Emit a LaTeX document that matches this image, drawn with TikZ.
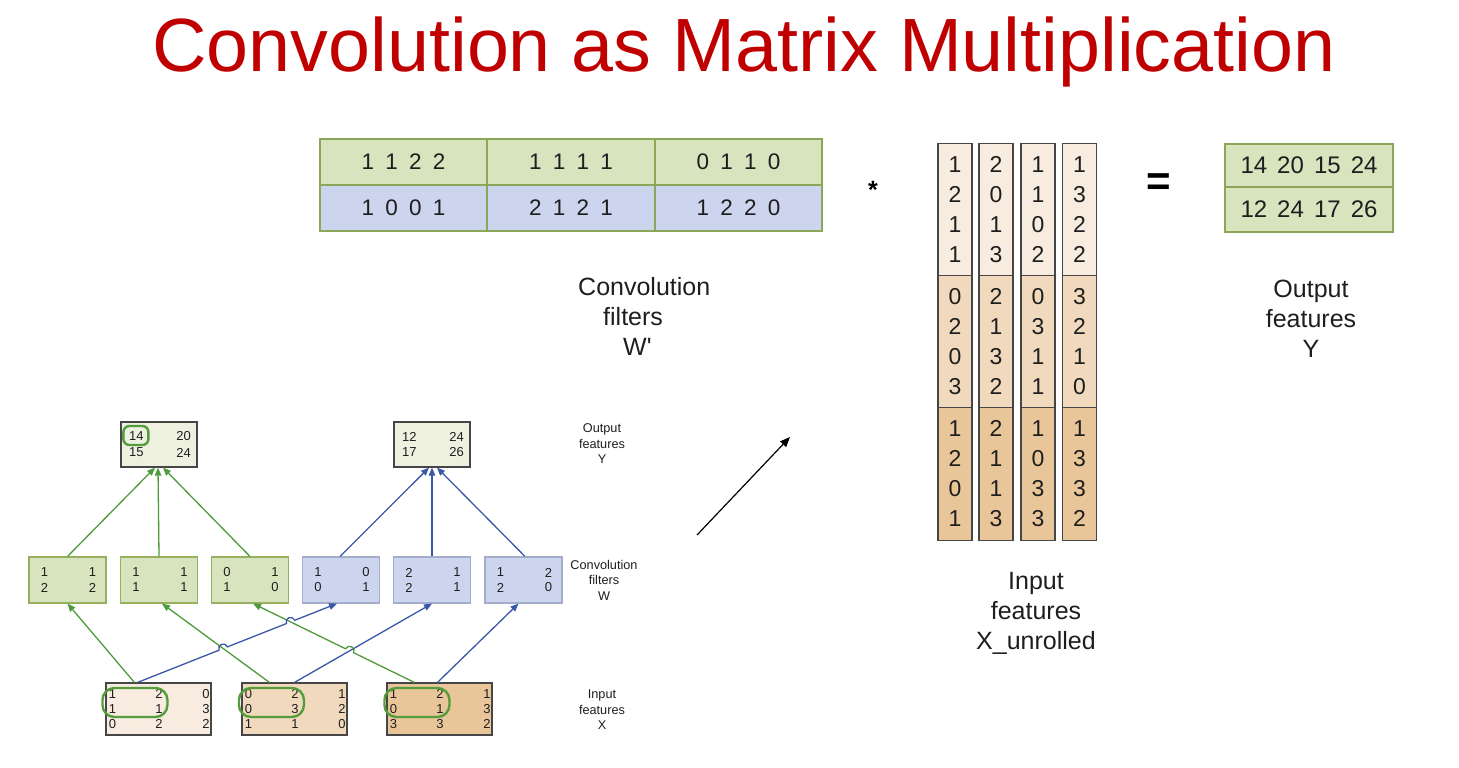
\documentclass[tikz,border=0pt]{standalone}
\usepackage{fontspec}
\setmainfont{Liberation Sans}
\usetikzlibrary{arrows.meta,calc,intersections}

\definecolor{titlered}{RGB}{192,0,0}
\definecolor{gfill}{RGB}{216,228,190}
\definecolor{gline}{RGB}{150,176,96}
\definecolor{tline}{RGB}{140,166,88}
\definecolor{bfill}{RGB}{205,213,238}
\definecolor{bline}{RGB}{164,174,204}
\definecolor{yfill}{RGB}{238,240,224}
\definecolor{peachA}{RGB}{247,236,223}
\definecolor{peachB}{RGB}{241,217,189}
\definecolor{peachC}{RGB}{233,198,154}
\definecolor{darkline}{RGB}{70,70,70}
\definecolor{garrow}{RGB}{78,154,60}
\definecolor{barrow}{RGB}{58,88,168}
\definecolor{ring}{RGB}{84,156,60}
\definecolor{ink}{RGB}{30,30,30}

% digits of one filter row, set with wide gaps
\newcommand{\fourdig}[4]{#1\hspace{0.5em}#2\hspace{0.5em}#3\hspace{0.5em}#4}
% 2x2 matrix inside a small box
\newcommand{\quadbox}[6]{%
  \node[num] (#1-a) at ([xshift=16pt,yshift=#6pt]#1.west) {#2};
  \node[num] (#1-b) at ([xshift=-14pt,yshift=#6pt]#1.east) {#3};
  \node[num] (#1-c) at ([xshift=16pt,yshift=-#6pt]#1.west) {#4};
  \node[num] (#1-d) at ([xshift=-14pt,yshift=-#6pt]#1.east) {#5};}
% one row of a 3x3 input matrix
\newcommand{\ninerow}[6]{%
  \node[num] (#1-#2a) at ([xshift=7pt,yshift=#6pt]#1.west) {#3};
  \node[num] (#1-#2b) at ([xshift=0.5pt,yshift=#6pt]#1.center) {#4};
  \node[num] (#1-#2c) at ([xshift=-5.5pt,yshift=#6pt]#1.east) {#5};}

\begin{document}
\begin{tikzpicture}[x=1pt,y=-1pt,
  tcell/.style={draw=tline, line width=1.5pt, minimum width=167pt, minimum height=46pt,
    inner sep=0pt, text=ink, font=\fontsize{22.5}{27}\selectfont},
  ucell/.style={draw=darkline, line width=1.3pt, minimum width=34pt, minimum height=132.5pt,
    inner sep=0pt, align=center, text=ink, font=\fontsize{23}{30}\selectfont},
  ocell/.style={draw=tline, line width=1.5pt, fill=gfill, minimum width=168pt,
    inner sep=0pt, text=ink, font=\fontsize{24}{28}\selectfont},
  biglabel/.style={align=center, inner sep=0pt, text=ink, font=\fontsize{25}{30}\selectfont},
  smlabel/.style={align=center, inner sep=0pt, text=ink, font=\fontsize{12.7}{15.5}\selectfont},
  wgbox/.style={draw=gline, line width=1.1pt, fill=gfill, minimum width=77pt, minimum height=46pt, inner sep=0pt},
  wbbox/.style={draw=bline, line width=1.1pt, fill=bfill, minimum width=77pt, minimum height=46pt, inner sep=0pt},
  ybox/.style={draw=darkline, line width=1.2pt, fill=yfill, minimum width=76pt, minimum height=45pt, inner sep=0pt},
  xbox/.style={draw=darkline, line width=1.1pt, minimum width=105pt, minimum height=52pt, inner sep=0pt},
  num/.style={inner sep=0pt, text=ink, font=\fontsize{13}{15}\selectfont},
  ringbox/.style={draw=ring, line width=2.4pt, rectangle, inner sep=0pt},
  garr/.style={draw=garrow, line width=1.3pt, -{Triangle[length=8pt,width=6.5pt]}},
  barr/.style={draw=barrow, line width=1.3pt, -{Triangle[length=8pt,width=6.5pt]}},
  karr/.style={draw=black, line width=1.2pt, -{Triangle[length=10pt,width=8pt]}},
  hop/.style={looseness=1.7}
]
\useasboundingbox (0,0) rectangle (1459,768);

% ---------- title ----------
\node[anchor=base, inner sep=0pt, text=titlered, font=\fontsize{75.5}{80}\selectfont] (title) at (744,72)
  {Convolution as Matrix Multiplication};

% ---------- filter matrix W' ----------
\node[tcell, fill=gfill] (t11) at (403.5,162) {\fourdig1122};
\node[tcell, fill=gfill, minimum width=168pt] (t12) at (571,162) {\fourdig1111};
\node[tcell, fill=gfill] (t13) at (738.5,162) {\fourdig0110};
\node[tcell, fill=bfill] (t21) at (403.5,208) {\fourdig1001};
\node[tcell, fill=bfill, minimum width=168pt] (t22) at (571,208) {\fourdig2121};
\node[tcell, fill=bfill] (t23) at (738.5,208) {\fourdig1220};

\node[biglabel, align=left, anchor=west] (wlab) at (578,316)
  {Convolution\\\hspace*{25pt}filters\\\hspace*{45pt}W\textquotesingle};

% ---------- operators ----------
\node[anchor=base, inner sep=0pt, font=\bfseries\fontsize{25}{28}\selectfont] (star) at (873,198) {*};
\node[anchor=base, inner sep=0pt, font=\bfseries\fontsize{42}{46}\selectfont] (eq) at (1159,195.5) {=};

% ---------- unrolled input X ----------
\node[ucell, fill=peachA] (u11) at (955,210)    {1\\2\\1\\1};
\node[ucell, fill=peachB] (u12) at (955,341.5)  {0\\2\\0\\3};
\node[ucell, fill=peachC] (u13) at (955,474)    {1\\2\\0\\1};
\node[ucell, fill=peachA] (u21) at (996,210)    {2\\0\\1\\3};
\node[ucell, fill=peachB] (u22) at (996,341.5)  {2\\1\\3\\2};
\node[ucell, fill=peachC] (u23) at (996,474)    {2\\1\\1\\3};
\node[ucell, fill=peachA] (u31) at (1038,210)   {1\\1\\0\\2};
\node[ucell, fill=peachB] (u32) at (1038,341.5) {0\\3\\1\\1};
\node[ucell, fill=peachC] (u33) at (1038,474)   {1\\0\\3\\3};
\node[ucell, fill=peachA] (u41) at (1079.5,210)   {1\\3\\2\\2};
\node[ucell, fill=peachB] (u42) at (1079.5,341.5) {3\\2\\1\\0};
\node[ucell, fill=peachC] (u43) at (1079.5,474)   {1\\3\\3\\2};

\node[biglabel] (xlab) at (1036,613) {Input\\features\\X\_unrolled};

% ---------- output Y ----------
\node[ocell, minimum height=43pt] (o1) at (1309,165.5) {14\hspace{0.42em}20\hspace{0.42em}15\hspace{0.42em}24};
\node[ocell, minimum height=45pt] (o2) at (1309,209.5) {12\hspace{0.42em}24\hspace{0.42em}17\hspace{0.42em}26};

\node[biglabel] (ylab) at (1311,319) {Output\\features\\Y};

% ---------- arrow between the two views ----------
\coordinate (ms) at (697,535);
\coordinate (me) at (790,437);
\draw[karr] (ms) -- (me);

% ---------- small network: output ----------
\node[ybox] (y1) at (159,444.5) {};
\node[ybox] (y2) at (432,444.5) {};
\quadbox{y1}{14}{20}{15}{24}{8}
\quadbox{y2}{12}{24}{17}{26}{8}
\node[ringbox, rounded corners=6pt, minimum width=25pt, minimum height=19pt] (r0)
  at ([xshift=15.5pt,yshift=9pt]y1.west) {};

% ---------- small network: filters ----------
\node[wgbox] (w1) at (67.5,580) {};
\node[wgbox] (w2) at (159,580) {};
\node[wgbox] (w3) at (250,580) {};
\node[wbbox] (w4) at (341,580) {};
\node[wbbox] (w5) at (432,580) {};
\node[wbbox] (w6) at (523.5,580) {};
\quadbox{w1}{1}{1}{2}{2}{7.5}
\quadbox{w2}{1}{1}{1}{1}{7.5}
\quadbox{w3}{0}{1}{1}{0}{7.5}
\quadbox{w4}{1}{0}{0}{1}{7.5}
\quadbox{w5}{2}{1}{2}{1}{7.5}
\quadbox{w6}{1}{2}{2}{0}{7.5}

% ---------- small network: input ----------
\node[xbox, fill=peachA] (x1) at (158.5,709) {};
\node[xbox, fill=peachB] (x2) at (294.5,709) {};
\node[xbox, fill=peachC] (x3) at (439.5,709) {};
\ninerow{x1}{1}{1}{2}{0}{15}
\ninerow{x1}{2}{1}{1}{3}{0}
\ninerow{x1}{3}{0}{2}{2}{-15}
\ninerow{x2}{1}{0}{2}{1}{15}
\ninerow{x2}{2}{0}{3}{2}{0}
\ninerow{x2}{3}{1}{1}{0}{-15}
\ninerow{x3}{1}{1}{2}{1}{15}
\ninerow{x3}{2}{0}{1}{3}{0}
\ninerow{x3}{3}{3}{3}{2}{-15}
\node[ringbox, rounded corners=12pt, minimum width=65pt, minimum height=29pt] (r1)
  at ([xshift=29.5pt,yshift=6.5pt]x1.west) {};
\node[ringbox, rounded corners=12pt, minimum width=65pt, minimum height=29pt] (r2)
  at ([xshift=30pt,yshift=6.5pt]x2.west) {};
\node[ringbox, rounded corners=12pt, minimum width=65pt, minimum height=29pt] (r3)
  at ([xshift=30.5pt,yshift=6.5pt]x3.west) {};

% ---------- small labels ----------
\node[smlabel] (ly) at (602,444) {Output\\features\\Y};
\node[smlabel] (lw) at (604,580) {Convolution\\filters\\W};
\node[smlabel] (lx) at (602,710) {Input\\features\\X};

% ---------- filters to outputs ----------
\draw[garr] (w1.north) -- ([xshift=-4pt]y1.south);
\draw[garr] (w2.north) -- ([xshift=-1pt]y1.south);
\draw[garr] (w3.north) -- ([xshift=4pt]y1.south);
\draw[barr] ([xshift=-1pt]w4.north) -- ([xshift=-3pt]y2.south);
\draw[barr] (w5.north) -- (y2.south);
\draw[barr] ([xshift=1.5pt]w6.north) -- ([xshift=5pt]y2.south);

% ---------- inputs to filters ----------
\coordinate (sg1) at ([xshift=29pt]x1.north west);
\coordinate (sb1) at ([xshift=32pt]x1.north west);
\coordinate (sg2) at ([xshift=28pt]x2.north west);
\coordinate (sb2) at ([xshift=53pt]x2.north west);
\coordinate (sg3) at ([xshift=28pt]x3.north west);
\coordinate (sb3) at ([xshift=51pt]x3.north west);
\coordinate (eg1) at (w1.south);
\coordinate (eg2) at ([xshift=3pt]w2.south);
\coordinate (eg3) at ([xshift=3pt]w3.south);
\coordinate (eb1) at ([xshift=-4pt]w4.south);
\coordinate (eb2) at (w5.south);
\coordinate (eb3) at ([xshift=-5pt]w6.south);

\path[name path=pb1] (sb1) -- (eb1);
\path[name path=pg2] (sg2) -- (eg2);
\path[name path=pg3] (sg3) -- (eg3);
\path[name path=pb2] (sb2) -- (eb2);
\path[name intersections={of=pb1 and pg2, by=c1}];
\path[name intersections={of=pb1 and pg3, by=c2}];
\path[name intersections={of=pg3 and pb2, by=c3}];

\draw[garr] (sg1) -- (eg1);
\draw[garr] (sg2) -- (eg2);
\draw[barr] (sb2) -- (eb2);
\draw[barr] (sb3) -- (eb3);
\draw[garr] (sg3) -- ($(c3)!4.5pt!(sg3)$) to[bend right=90, hop] ($(c3)!4.5pt!(eg3)$) -- (eg3);
\draw[barr] (sb1) -- ($(c1)!4.5pt!(sb1)$) to[bend left=90, hop] ($(c1)!4.5pt!(eb1)$)
  -- ($(c2)!4.5pt!(sb1)$) to[bend left=90, hop] ($(c2)!4.5pt!(eb1)$) -- (eb1);
\end{tikzpicture}
\end{document}
